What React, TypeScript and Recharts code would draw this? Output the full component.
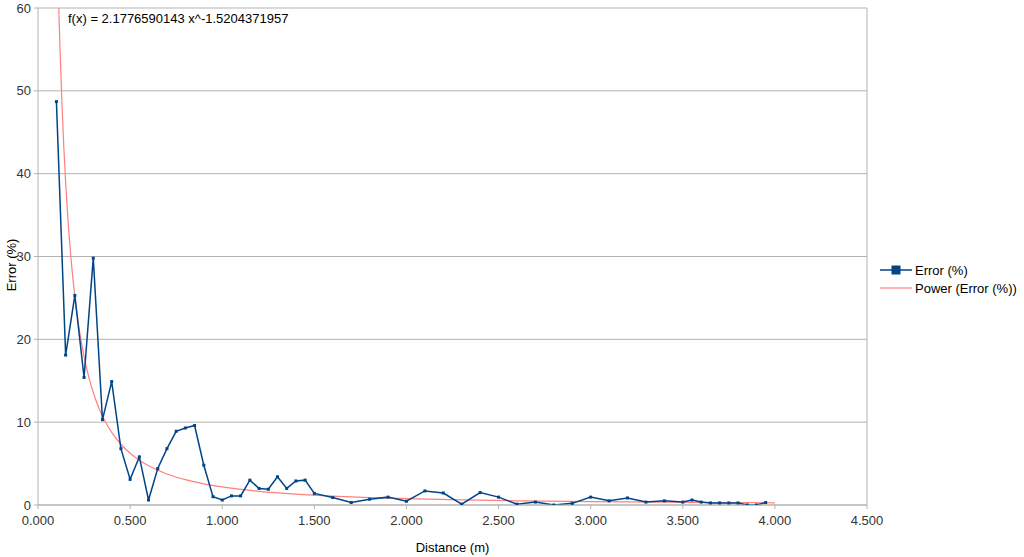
import React from 'react';
import { ComposedChart, Line, XAxis, YAxis, CartesianGrid, Legend, ReferenceLine } from 'recharts';

const distances = [0.1, 0.15, 0.2, 0.25, 0.3, 0.35, 0.4, 0.45, 0.5, 0.55, 0.6, 0.65, 0.7, 0.75, 0.8, 0.85, 0.9, 0.95, 1.0, 1.05, 1.1, 1.15, 1.2, 1.25, 1.3, 1.35, 1.4, 1.45, 1.5, 1.6, 1.7, 1.8, 1.9, 2.0, 2.1, 2.2, 2.3, 2.4, 2.5, 2.6, 2.7, 2.8, 2.9, 3.0, 3.1, 3.2, 3.3, 3.4, 3.5, 3.55, 3.6, 3.65, 3.7, 3.75, 3.8, 3.85, 3.9, 3.95];
const errors = [48.7, 18.1, 25.3, 15.4, 29.8, 10.3, 14.9, 6.8, 3.1, 5.8, 0.6, 4.4, 6.8, 8.9, 9.3, 9.6, 4.8, 1.0, 0.6, 1.1, 1.1, 3.0, 2.0, 1.9, 3.4, 2.0, 2.9, 3.0, 1.4, 0.9, 0.3, 0.7, 0.95, 0.45, 1.7, 1.45, 0.1, 1.5, 0.95, 0.1, 0.35, 0.0, 0.2, 0.95, 0.5, 0.85, 0.35, 0.5, 0.35, 0.6, 0.35, 0.25, 0.25, 0.25, 0.25, 0.0, 0.0, 0.3];

// Trendline as displayed: f(x) = 2.1776590143 x^-1.5204371957
const trendCoef = 2.1776590143;
const trendExp = -1.5204371957;
const trendX = [0.1, 0.105, 0.11, 0.115, 0.12, 0.13, 0.14, 0.15, 0.16, 0.18, 0.2, 0.22, 0.25, 0.28, 0.3, 0.33, 0.36, 0.4, 0.45, 0.5, 0.55, 0.6, 0.7, 0.8, 0.9, 1.0, 1.2, 1.4, 1.6, 1.8, 2.0, 2.3, 2.6, 3.0, 3.4, 3.7, 4.0];

const xTicks = [0, 0.5, 1, 1.5, 2, 2.5, 3, 3.5, 4, 4.5];
const yTicks = [0, 10, 20, 30, 40, 50, 60];

const errorData = distances.map((d, i) => ({ x: d, err: errors[i] }));
const trendData = trendX.map((x) => ({ x, pow: trendCoef * Math.pow(x, trendExp) }));

const BLUE = '#004586';
const RED = '#ff7f7f';
const GRID = '#b3b3b3';
const FONT = '"Liberation Sans", Arial, sans-serif';

const SquareDot = (props: any) => {
  const { cx, cy } = props;
  if (cx == null || cy == null) return null;
  return <rect x={cx - 1.5} y={cy - 1.5} width={3} height={3} fill={BLUE} />;
};

const LegendContent = () => (
  <div style={{ fontFamily: FONT, fontSize: 13, color: '#000' }}>
    <div style={{ display: 'flex', alignItems: 'center', height: 18 }}>
      <svg width={32} height={10} style={{ marginRight: 3 }}>
        <line x1={0} y1={5} x2={32} y2={5} stroke={BLUE} strokeWidth={1.5} />
        <rect x={11.5} y={0.5} width={9} height={9} fill={BLUE} />
      </svg>
      <span>Error (%)</span>
    </div>
    <div style={{ display: 'flex', alignItems: 'center', height: 18 }}>
      <svg width={32} height={10} style={{ marginRight: 3 }}>
        <line x1={0} y1={5} x2={32} y2={5} stroke={RED} strokeWidth={1.2} />
      </svg>
      <span>Power (Error (%))</span>
    </div>
  </div>
);

export default function App() {
  return (
    <div style={{ position: 'absolute', left: 0, top: 0, width: 1024, height: 557, background: '#fff' }}>
      <ComposedChart
        width={1024}
        height={557}
        margin={{ top: 8, right: 157, bottom: 22, left: 8 }}
        style={{ fontFamily: FONT }}
      >
        <CartesianGrid horizontal={true} vertical={false} stroke={GRID} strokeWidth={1} />
        <XAxis
          type="number"
          dataKey="x"
          domain={[0, 4.5]}
          ticks={xTicks}
          allowDataOverflow
          tickFormatter={(v: number) => v.toFixed(3)}
          stroke={GRID}
          tickSize={4}
          tickMargin={7}
          height={30}
          tick={{ fill: '#333', fontSize: 13, fontFamily: FONT }}
          label={{ value: 'Distance (m)', position: 'insideBottom', offset: -17, fill: '#000', fontSize: 13, fontFamily: FONT }}
        />
        <YAxis
          type="number"
          domain={[0, 60]}
          ticks={yTicks}
          allowDataOverflow
          stroke={GRID}
          tickSize={4}
          tickMargin={3}
          width={30}
          tick={{ fill: '#333', fontSize: 13, fontFamily: FONT }}
        />
        <ReferenceLine x={4.5} stroke={GRID} strokeWidth={1} ifOverflow="extendDomain" />
        <Line
          data={trendData}
          dataKey="pow"
          type="monotone"
          stroke={RED}
          strokeWidth={1.2}
          dot={false}
          activeDot={false}
          isAnimationActive={false}
          name="Power (Error (%))"
        />
        <Line
          data={errorData}
          dataKey="err"
          type="linear"
          stroke={BLUE}
          strokeWidth={1.5}
          dot={<SquareDot />}
          activeDot={false}
          isAnimationActive={false}
          name="Error (%)"
        />
        <Legend
          layout="vertical"
          align="center"
          verticalAlign="middle"
          content={<LegendContent />}
          wrapperStyle={{ left: 880, top: 261, width: 144 }}
        />
        <text x={68} y={23} fontSize={13} fontFamily={FONT} fill="#000">
          f(x) = 2.1776590143 x^-1.5204371957
        </text>
        <text
          x={0}
          y={0}
          transform="translate(16, 265) rotate(-90)"
          textAnchor="middle"
          fontSize={13}
          fontFamily={FONT}
          fill="#000"
        >
          Error (%)
        </text>
      </ComposedChart>
    </div>
  );
}
